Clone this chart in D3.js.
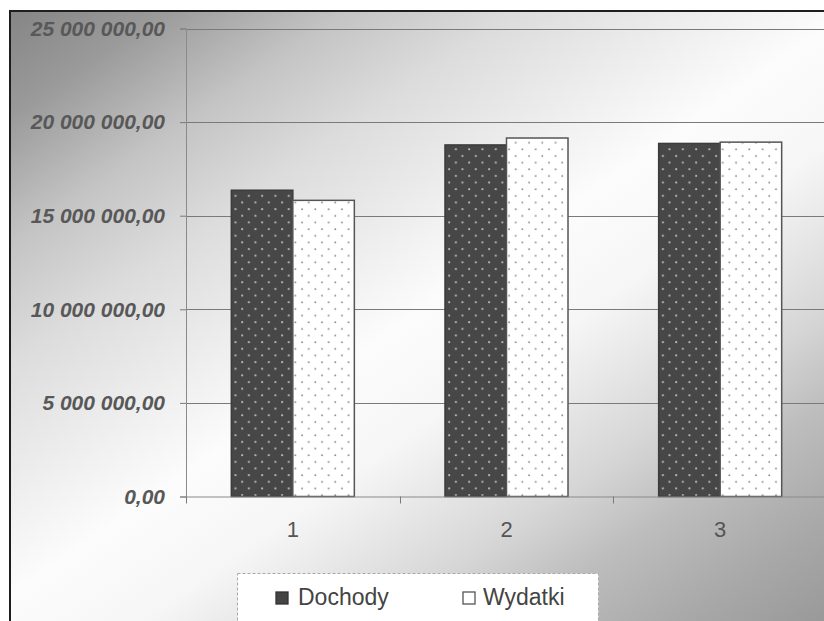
<!DOCTYPE html>
<html>
<head>
<meta charset="utf-8">
<script src="https://cdn.jsdelivr.net/npm/d3@7/dist/d3.min.js"></script>
<style>
  html, body { margin: 0; padding: 0; background: #fff; }
  svg { display: block; }
</style>
</head>
<body>
<svg id="chart" width="824" height="621"></svg>
<script>
// Budget data: income (Dochody) and expenses (Wydatki) per period
const categories = ["1", "2", "3"];
const seriesNames = ["Dochody", "Wydatki"];
const dochody = [16360000, 18780000, 18860000];
const wydatki = [15820000, 19150000, 18930000];
const yTicks = [0, 5000000, 10000000, 15000000, 20000000, 25000000];

const seriesValues = { Dochody: dochody, Wydatki: wydatki };

const W = 824, H = 621;
const plot = { left: 186, top: 28.5, bottom: 496.5, right: 827 };

const svg = d3.select("#chart");
const defs = svg.append("defs");

// Chart-area background gradient (grey corners, light diagonal band)
const grad = defs.append("linearGradient")
  .attr("id", "bg").attr("gradientUnits", "userSpaceOnUse")
  .attr("x1", 10).attr("y1", 11).attr("x2", 559).attr("y2", 801);
[[0, "#858585"], [0.09, "#9a9a9a"], [0.2, "#c4c4c4"], [0.3, "#dcdcdc"],
 [0.5, "#fcfcfc"], [0.6, "#f6f6f6"], [0.74, "#d6d6d6"], [0.82, "#bdbdbd"],
 [0.92, "#a8a8a8"], [1, "#9a9a9a"]].forEach(([o, c]) =>
  grad.append("stop").attr("offset", o).attr("stop-color", c));

// Dotted fill patterns for the two series
function dotPattern(id, bg, dot, r) {
  const p = defs.append("pattern").attr("id", id)
    .attr("patternUnits", "userSpaceOnUse")
    .attr("width", 13.3).attr("height", 13.3);
  p.append("rect").attr("width", 13.3).attr("height", 13.3).attr("fill", bg);
  p.append("circle").attr("cx", 3).attr("cy", 3).attr("r", r).attr("fill", dot);
  p.append("circle").attr("cx", 9.65).attr("cy", 9.65).attr("r", r).attr("fill", dot);
}
dotPattern("patD", "#474747", "#b8b8b8", 1.1);
dotPattern("patW", "#ffffff", "#8a8a8a", 0.95);

const fills = { Dochody: "url(#patD)", Wydatki: "url(#patW)" };
const strokes = { Dochody: "#3c3c3c", Wydatki: "#555555" };

// Outer chart frame
svg.append("rect")
  .attr("x", 10).attr("y", 11).attr("width", 900).attr("height", 700)
  .attr("fill", "url(#bg)").attr("stroke", "#1e1e1e").attr("stroke-width", 2);

// Scales
const x = d3.scaleBand().domain(categories).range([plot.left, plot.right])
  .paddingInner(0).paddingOuter(0);
const x1 = d3.scaleBand().domain(seriesNames).range([0, x.bandwidth()])
  .paddingInner(0).paddingOuter(0.737);
const y = d3.scaleLinear().domain([0, 25000000]).range([plot.bottom, plot.top]);

const pl = d3.formatLocale({ decimal: ",", thousands: " ", grouping: [3], currency: ["", " zł"] });
const fmt = pl.format(",.2f");

// Horizontal gridlines
svg.append("g").selectAll("line").data(yTicks.filter(d => d > 0)).join("line")
  .attr("x1", plot.left).attr("x2", W + 10)
  .attr("y1", d => Math.round(y(d)) + 0.5).attr("y2", d => Math.round(y(d)) + 0.5)
  .attr("stroke", "#7a7a7a").attr("stroke-width", 1);

// Y axis
const yAxis = svg.append("g").attr("transform", `translate(${plot.left},0)`)
  .call(d3.axisLeft(y).tickValues(yTicks).tickFormat(fmt).tickSize(6).tickPadding(15));
yAxis.select(".domain").attr("stroke", "#8a8a8a");
yAxis.selectAll(".tick line").attr("stroke", "#7a7a7a");
yAxis.selectAll(".tick text")
  .attr("fill", "#585858")
  .style("font-family", "'Liberation Sans', Arial, sans-serif")
  .style("font-size", "21px").style("font-weight", "bold").style("font-style", "italic");

// Bars
const groups = svg.append("g").selectAll("g").data(categories).join("g")
  .attr("transform", d => `translate(${x(d)},0)`);
groups.selectAll("rect")
  .data((c, i) => seriesNames.map(s => ({ s, v: seriesValues[s][i] })))
  .join("rect")
  .attr("x", d => x1(d.s))
  .attr("y", d => y(d.v))
  .attr("width", x1.bandwidth())
  .attr("height", d => y(0) - y(d.v))
  .attr("fill", d => fills[d.s])
  .attr("stroke", d => strokes[d.s])
  .attr("stroke-width", 1.5);

// X axis
const xAxis = svg.append("g").attr("transform", `translate(0,${plot.bottom})`)
  .call(d3.axisBottom(x).tickSize(0).tickPadding(25));
xAxis.select(".domain").attr("stroke", "#8a8a8a").attr("d", `M${plot.left},0.5H${W + 10}`);
xAxis.selectAll(".tick text")
  .attr("fill", "#555")
  .style("font-family", "'Liberation Sans', Arial, sans-serif")
  .style("font-size", "22px");
// Category boundary tick marks
svg.append("g").selectAll("line").data(categories).join("line")
  .attr("x1", d => Math.round(x(d)) + 0.5).attr("x2", d => Math.round(x(d)) + 0.5)
  .attr("y1", plot.bottom).attr("y2", plot.bottom + 7)
  .attr("stroke", "#7a7a7a");

// Legend
const legend = svg.append("g");
legend.append("rect")
  .attr("x", 237.5).attr("y", 573.5).attr("width", 361).attr("height", 70)
  .attr("fill", "#ffffff").attr("stroke", "#a8a8a8").attr("stroke-dasharray", "3,2");
const legendItems = [
  { s: "Dochody", mx: 276, tx: 298 },
  { s: "Wydatki", mx: 463, tx: 483 }
];
legendItems.forEach(it => {
  legend.append("rect")
    .attr("x", it.mx).attr("y", 592).attr("width", 12).attr("height", 12)
    .attr("fill", it.s === "Dochody" ? "#444" : "#fff")
    .attr("stroke", it.s === "Dochody" ? "#333" : "#555").attr("stroke-width", 1.3);
  legend.append("text")
    .attr("x", it.tx).attr("y", 605)
    .attr("fill", "#444")
    .style("font-family", "'Liberation Sans', Arial, sans-serif")
    .style("font-size", "23px")
    .text(it.s);
});
</script>
</body>
</html>
